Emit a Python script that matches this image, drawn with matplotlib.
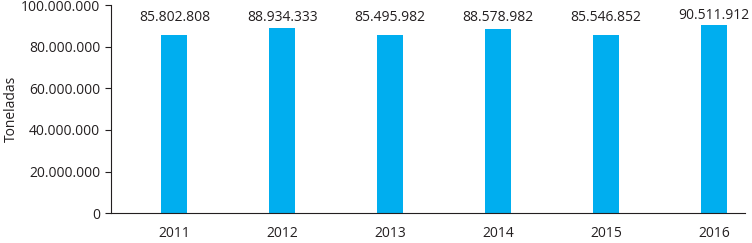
import matplotlib.pyplot as plt
from matplotlib.ticker import FuncFormatter

years = ["2011", "2012", "2013", "2014", "2015", "2016"]
toneladas = [85802808, 88934333, 85495982, 88578982, 85546852, 90511912]


def miles(v, pos=None):
    return f"{int(v):,}".replace(",", ".")


plt.rcParams["font.family"] = ["Open Sans", "DejaVu Sans"]

fig = plt.figure(figsize=(7.52, 2.43), dpi=100)
ax = fig.add_axes([0.148, 0.123, 0.843, 0.856])

x = range(len(years))
ax.bar(x, toneladas, width=0.24, color="#00AEEF")

# value labels sit roughly on one line above the bars
for i, v in enumerate(toneladas):
    ax.text(i, max(v + 4.5e6, 94e6), miles(v), ha="center", va="center",
            fontsize=10, color="#231f20")

ax.set_xlim(-0.585, 5.29)
ax.set_ylim(0, 100e6)
ax.set_yticks(range(0, 100000001, 20000000))
ax.yaxis.set_major_formatter(FuncFormatter(miles))
ax.set_xticks(list(x))
ax.set_xticklabels(years)
ax.tick_params(axis="x", length=0, pad=9, labelsize=10, colors="#231f20")
ax.tick_params(axis="y", length=4, width=0.8, pad=4, labelsize=10, colors="#231f20")

# y title placed by hand so it does not get clipped at the left edge
fig.text(0.015, 0.55, "Toneladas", rotation=90, ha="center", va="center",
         fontsize=10, color="#231f20")

for side in ["top", "right"]:
    ax.spines[side].set_visible(False)
for side in ["left", "bottom"]:
    ax.spines[side].set_color("#231f20")
    ax.spines[side].set_linewidth(0.8)

fig.savefig("out.png", dpi=100)
